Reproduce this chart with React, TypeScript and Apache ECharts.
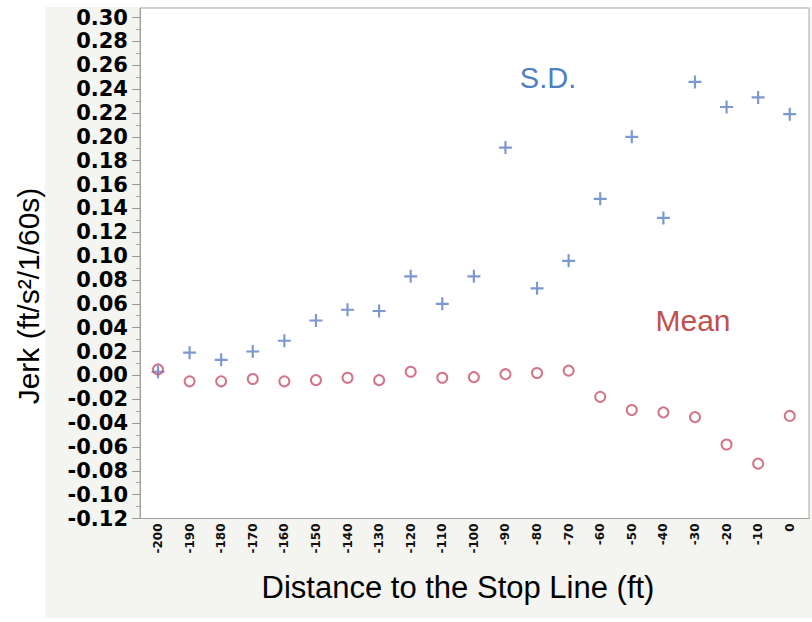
import React, { useEffect, useRef } from "react";
import * as echarts from "echarts";

const distances = [-200, -190, -180, -170, -160, -150, -140, -130, -120, -110, -100, -90, -80, -70, -60, -50, -40, -30, -20, -10, 0];
const sdValues = [0.003, 0.019, 0.013, 0.020, 0.029, 0.046, 0.055, 0.054, 0.083, 0.060, 0.083, 0.191, 0.073, 0.096, 0.148, 0.200, 0.132, 0.246, 0.225, 0.233, 0.219];
const meanValues = [0.005, -0.005, -0.005, -0.003, -0.005, -0.004, -0.002, -0.004, 0.003, -0.002, -0.0015, 0.001, 0.002, 0.004, -0.018, -0.029, -0.031, -0.035, -0.058, -0.074, -0.034];
const yTickLabels = [-0.12, -0.10, -0.08, -0.06, -0.04, -0.02, 0.00, 0.02, 0.04, 0.06, 0.08, 0.10, 0.12, 0.14, 0.16, 0.18, 0.20, 0.22, 0.24, 0.26, 0.28, 0.30];

const BLUE = "#5a7ec6";
const RED = "#c8526a";
const PLUS = "path://M5,0H7V5H12V7H7V12H5V7H0V5H5Z";

export default function App() {
  const ref = useRef<HTMLDivElement>(null);
  useEffect(() => {
    document.body.style.margin = "0";
    const chart = echarts.init(ref.current!, undefined, { renderer: "svg" });
    const minorTicks = yTickLabels.slice(0, -1).map((v) => Math.round((v + 0.01) * 1000) / 1000);
    chart.setOption({
      animation: false,
      backgroundColor: "#ffffff",
      grid: {
        left: 140,
        right: 3,
        top: 8,
        bottom: 103.5,
        show: true,
        backgroundColor: "#ffffff",
        borderColor: "#a8a8a8",
        borderWidth: 1,
      },
      xAxis: {
        type: "value",
        min: -205.7,
        max: 6.1,
        splitLine: { show: false },
        axisTick: { show: false },
        axisLine: { onZero: false, lineStyle: { color: "#a0a0a0" } },
        axisLabel: {
          customValues: distances,
          rotate: 90,
          margin: 5,
          color: "#111",
          fontFamily: "DejaVu Sans",
          fontWeight: "bold",
          fontSize: 12,
          formatter: (v: number) => String(v),
        },
      },
      yAxis: [
        {
          type: "value",
          position: "left",
          min: -0.12,
          max: 0.308,
          splitLine: { show: false },
          axisLine: { show: true, onZero: false, lineStyle: { color: "#a0a0a0" } },
          axisTick: { show: true, customValues: yTickLabels, length: 8, lineStyle: { color: "#999" } },
          axisLabel: {
            customValues: yTickLabels,
            margin: 12,
            color: "#000",
            fontFamily: "DejaVu Sans",
            fontWeight: "bold",
            fontSize: 21,
            formatter: (v: number) => v.toFixed(2),
          },
        },
        {
          type: "value",
          position: "left",
          min: -0.12,
          max: 0.308,
          splitLine: { show: false },
          axisLine: { show: false, onZero: false },
          axisLabel: { show: false },
          axisTick: { show: true, customValues: minorTicks, length: 4, lineStyle: { color: "#aaa" } },
        },
      ],
      graphic: [
        { type: "rect", z: -10, shape: { x: 45, y: 7, width: 767, height: 611 }, style: { fill: "#f4f4f0" } },
        {
          type: "text",
          x: 28,
          y: 296,
          rotation: Math.PI / 2,
          style: {
            text: "Jerk (ft/s²/1/60s)",
            fontFamily: "Liberation Sans, Arial, sans-serif",
            fontSize: 30,
            fill: "#000",
            align: "center",
            verticalAlign: "middle",
          },
        },
        {
          type: "text",
          x: 458,
          y: 587,
          style: {
            text: "Distance to the Stop Line (ft)",
            fontFamily: "Liberation Sans, Arial, sans-serif",
            fontSize: 31,
            fill: "#000",
            align: "center",
            verticalAlign: "middle",
          },
        },
        {
          type: "text",
          x: 548,
          y: 78,
          style: {
            text: "S.D.",
            fontFamily: "Liberation Sans, Arial, sans-serif",
            fontSize: 29,
            fill: "#4f7fc0",
            align: "center",
            verticalAlign: "middle",
          },
        },
        {
          type: "text",
          x: 693,
          y: 320,
          style: {
            text: "Mean",
            fontFamily: "Liberation Sans, Arial, sans-serif",
            fontSize: 30,
            fill: "#c0504d",
            align: "center",
            verticalAlign: "middle",
          },
        },
      ],
      series: [
        {
          name: "S.D.",
          type: "scatter",
          symbol: PLUS,
          symbolSize: 13,
          itemStyle: { color: BLUE },
          data: distances.map((d, i) => [d, sdValues[i]]),
        },
        {
          name: "Mean",
          type: "scatter",
          symbol: "circle",
          symbolSize: 10,
          itemStyle: { color: "rgba(255,255,255,0)", borderColor: RED, borderWidth: 2 },
          data: distances.map((d, i) => [d, meanValues[i]]),
        },
      ],
    });
    return () => chart.dispose();
  }, []);
  return <div ref={ref} style={{ width: 812, height: 622 }} />;
}
